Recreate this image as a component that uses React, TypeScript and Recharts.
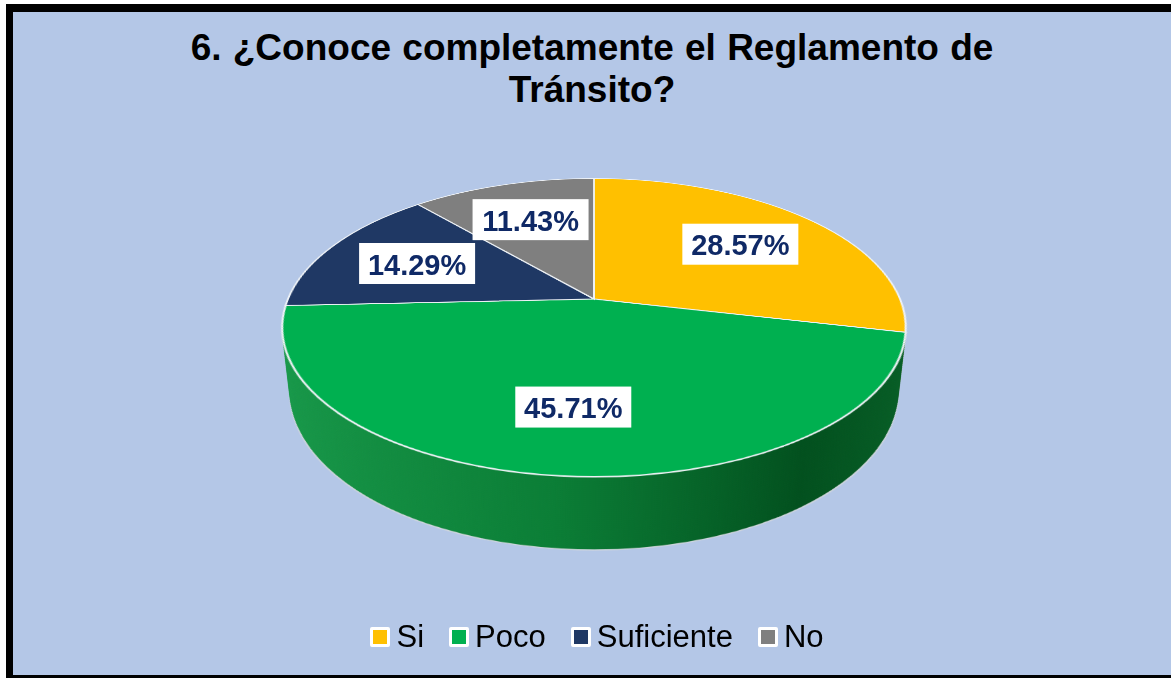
import { Cell, Legend, Pie, PieChart } from "recharts";

const categories = ["Si", "Poco", "Suficiente", "No"];
const counts = [10, 16, 5, 4];
const topColors = ["#FFC000", "#00B050", "#1F3864", "#7F7F7F"];
const sideColors = ["#B58900", "url(#sideGreen)", "#16284A", "#5A5A5A"];
const titleLines = ["6. ¿Conoce completamente el Reglamento de", "Tránsito?"];

const data = categories.map((name, i) => ({ name, value: counts[i] }));

const W = 1171;
const H = 678;
// pie centre on the page and 3d settings
const PX = 594;
const PY = 299;
const R = 306;
const TILT = 62;
const PERSP = 1408;
const DEPTH = 74;
const BOX = 700;

const FONT = "'Liberation Sans', Arial, Helvetica, sans-serif";
const depths: number[] = [];
for (let d = DEPTH; d >= 2; d -= 2) depths.push(d);

// same projection as the css transform, used to place labels on the tilted disc
function project(dx: number, dy: number) {
	const t = (TILT * Math.PI) / 180;
	const yr = dy * Math.cos(t);
	const z = dy * Math.sin(t);
	const s = PERSP / (PERSP - z);
	return { x: dx * s, y: yr * s };
}

function PieLabel(props: any) {
	const { cx, cy, midAngle, outerRadius, percent } = props;
	const rad = (midAngle * Math.PI) / 180;
	const r = outerRadius * 0.66;
	const p = project(r * Math.cos(rad), -r * Math.sin(rad));
	const x = cx + p.x;
	const y = cy + p.y;
	const text = `${(percent * 100).toFixed(2)}%`;
	return (
		<g>
			<rect x={x - 58} y={y - 20.5} width={116} height={41} fill="#ffffff" />
			<text
				x={x}
				y={y + 1}
				textAnchor="middle"
				dominantBaseline="central"
				fontFamily={FONT}
				fontSize={29}
				fontWeight="bold"
				fill="#0F2966"
			>
				{text}
			</text>
		</g>
	);
}

function LegendContent() {
	return (
		<div
			style={{
				display: "flex",
				justifyContent: "center",
				alignItems: "center",
				fontFamily: FONT,
				fontSize: 31,
				lineHeight: "36px",
				color: "#000",
			}}
		>
			{categories.map((name, i) => (
				<div key={name} style={{ display: "flex", alignItems: "center", marginRight: i < categories.length - 1 ? 25 : 0 }}>
					<span
						style={{
							width: 14,
							height: 14,
							border: "3px solid #fff",
							borderRadius: 2,
							background: topColors[i],
							marginRight: 6,
						}}
					/>
					<span>{name}</span>
				</div>
			))}
		</div>
	);
}

function DiscLayer({ depth, top }: { depth: number; top: boolean }) {
	return (
		<div
			style={{
				position: "absolute",
				left: PX - BOX / 2,
				top: PY - BOX / 2,
				width: BOX,
				height: BOX,
				transformOrigin: `${BOX / 2}px ${BOX / 2}px`,
				transform: `perspective(${PERSP}px) rotateX(${TILT}deg) translateZ(${-depth}px)`,
			}}
		>
			<PieChart width={BOX} height={BOX} margin={{ top: 0, right: 0, bottom: 0, left: 0 }}>
				<Pie
					data={data}
					dataKey="value"
					nameKey="name"
					cx={BOX / 2}
					cy={BOX / 2}
					outerRadius={R}
					startAngle={90}
					endAngle={-270}
					isAnimationActive={false}
					stroke={top ? "#EEF2F6" : depth === DEPTH ? "#D0D6DE" : "none"}
					strokeWidth={top ? 2 : 1.5}
				>
					{data.map((d, i) => (
						<Cell key={d.name} fill={top ? topColors[i] : sideColors[i]} />
					))}
				</Pie>
			</PieChart>
		</div>
	);
}

export default function App() {
	return (
		<div style={{ position: "fixed", left: 0, top: 0, width: W, height: H, background: "#fff", overflow: "hidden" }}>
			<svg width="0" height="0" style={{ position: "absolute" }}>
				<defs>
					<linearGradient id="sideGreen" x1="0" y1="0" x2="1" y2="0">
						<stop offset="0%" stopColor="#18994A" />
						<stop offset="45%" stopColor="#0B7E36" />
						<stop offset="80%" stopColor="#02501E" />
						<stop offset="100%" stopColor="#075E26" />
					</linearGradient>
				</defs>
			</svg>
			<div
				style={{
					position: "absolute",
					left: 6,
					top: 4,
					width: 1200,
					height: 663,
					borderStyle: "solid",
					borderColor: "#000",
					borderWidth: "8px 8px 8px 7px",
					background: "#B4C7E7",
				}}
			/>
			<div
				style={{
					position: "absolute",
					left: 0,
					top: 27,
					width: 1184,
					textAlign: "center",
					fontFamily: FONT,
					fontWeight: "bold",
					fontSize: 37,
					lineHeight: "42px",
					wordSpacing: 1,
					whiteSpace: "nowrap",
					color: "#000",
				}}
			>
				{titleLines[0]}
				<br />
				{titleLines[1]}
			</div>
			{depths.map((d) => (
				<DiscLayer key={d} depth={d} top={false} />
			))}
			<DiscLayer depth={0} top={true} />
			<div style={{ position: "absolute", left: 0, top: 0 }}>
				<PieChart width={W} height={H} margin={{ top: 0, right: 0, bottom: 0, left: 0 }}>
					<Pie
						data={data}
						dataKey="value"
						nameKey="name"
						cx={PX}
						cy={PY}
						outerRadius={R}
						startAngle={90}
						endAngle={-270}
						isAnimationActive={false}
						fill="none"
						stroke="none"
						label={PieLabel}
						labelLine={false}
					>
						{data.map((d) => (
							<Cell key={d.name} fill="transparent" stroke="none" />
						))}
					</Pie>
					<Legend
						verticalAlign="bottom"
						content={LegendContent}
						wrapperStyle={{ top: 619, bottom: "auto", left: 0, width: 1194 }}
					/>
				</PieChart>
			</div>
		</div>
	);
}
